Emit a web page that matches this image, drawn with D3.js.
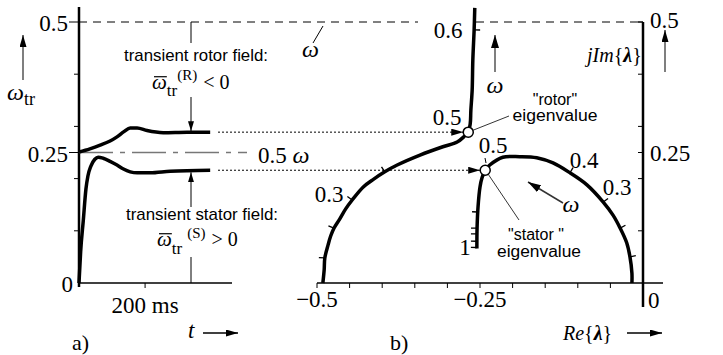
<!DOCTYPE html>
<html><head><meta charset="utf-8">
<script src="https://cdn.jsdelivr.net/npm/d3@7"></script>
<style>
html,body{margin:0;padding:0;background:#fff}
svg{display:block}
text{font-family:"Liberation Serif","Times New Roman",serif;fill:#000}
.sans{font-family:"Liberation Sans Narrow","Liberation Sans",Arial,sans-serif}
</style></head><body>
<svg id="chart" width="723" height="355"></svg>
<script>
// ---------- data ----------
const omega = 0.5;                       // stator frequency (p.u.)
const timeTicks = [200];                 // ms
const omegaTicks = [0.1, 0.2, 0.25, 0.3, 0.4, 0.5];
const omegaLabels = [0, 0.25, 0.5];
const reTicks = [-0.5, -0.45, -0.4, -0.35, -0.3, -0.25, -0.2, -0.15, -0.1, -0.05];
const reLabels = [-0.5, -0.25];

// transient frequencies [t (ms), omega_tr]
const rotorTransient = [[0,0.251],[33,0.257],[64,0.264],[94,0.272],[115,0.280],[136,0.290],[155,0.297],[176,0.297],[206,0.292],[255,0.288],[327,0.289],[397,0.289]];
const statorTransient = [[0,0],[5,0.06],[13,0.12],[21,0.180],[27,0.205],[36,0.224],[48,0.237],[58,0.241],[73,0.239],[94,0.233],[115,0.226],[133,0.219],[155,0.213],[176,0.211],[215,0.211],[276,0.214],[397,0.216]];

// eigenvalue loci [Re, Im] as omega rises
const rotorLocus = [[-0.491,0],[-0.489,0.025],[-0.488,0.048],[-0.483,0.073],[-0.479,0.090],[-0.474,0.105],[-0.465,0.123],[-0.456,0.142],[-0.446,0.159],[-0.429,0.184],[-0.413,0.199],[-0.396,0.213],[-0.377,0.226],[-0.342,0.245],[-0.307,0.261],[-0.285,0.270],[-0.275,0.280],[-0.268,0.289],[-0.265,0.305],[-0.264,0.331],[-0.262,0.370],[-0.261,0.427],[-0.259,0.485],[-0.258,0.527]];
const statorLocus = [[-0.017,0],[-0.017,0.019],[-0.020,0.050],[-0.025,0.077],[-0.035,0.105],[-0.046,0.130],[-0.061,0.155],[-0.086,0.188],[-0.112,0.211],[-0.138,0.230],[-0.163,0.240],[-0.189,0.242],[-0.215,0.241],[-0.235,0.226],[-0.242,0.216],[-0.247,0.201],[-0.250,0.184],[-0.253,0.146],[-0.2545,0.105],[-0.2548,0.066]];
// omega marks along the loci [omega, Re, Im]
const rotorMarks = [[0.1,-0.488,0.048],[0.2,-0.474,0.105],[0.3,-0.446,0.159],[0.4,-0.396,0.213],[0.6,-0.259,0.485]];
const statorMarks = [[0.1,-0.020,0.050],[0.2,-0.035,0.105],[0.3,-0.061,0.155],[0.4,-0.112,0.211],[0.6,-0.253,0.136],[0.7,-0.2546,0.105],[0.8,-0.2547,0.094],[0.9,-0.2547,0.080],[1.0,-0.2548,0.068]];
// operating points at omega = 0.5
const rotorEig = [-0.268, 0.289];
const statorEig = [-0.242, 0.216];

// ---------- scales ----------
const svg = d3.select("#chart");
const tx = d3.scaleLinear().domain([0, 460]).range([79, 231]);
const wy = d3.scaleLinear().domain([0, 0.5]).range([283, 22]);
const rx = d3.scaleLinear().domain([-0.5, 0]).range([317, 643]);
const iy = wy; // imaginary axis shares the frequency scale

// ---------- markers ----------
const defs = svg.append("defs");
function marker(id, L, W, color) {
  defs.append("marker").attr("id", id).attr("viewBox", `0 0 ${L} ${W}`)
    .attr("refX", L).attr("refY", W / 2).attr("markerWidth", L).attr("markerHeight", W)
    .attr("markerUnits", "userSpaceOnUse").attr("orient", "auto")
    .append("path").attr("d", `M0,0L${L},${W/2}L0,${W}Z`).attr("fill", color || "#000");
}
marker("ah", 12, 7);
marker("ahs", 10, 6);
marker("ahb", 13, 8);

function line(x1, y1, x2, y2, opts = {}) {
  const l = svg.append("line").attr("x1", x1).attr("y1", y1).attr("x2", x2).attr("y2", y2)
    .attr("stroke", opts.color || "#000").attr("stroke-width", opts.w || 1);
  if (opts.dash) l.attr("stroke-dasharray", opts.dash);
  if (opts.end) l.attr("marker-end", `url(#${opts.end})`);
  return l;
}
function label(x, y, s, opts = {}) {
  const t = svg.append("text").attr("x", x).attr("y", y).text(s)
    .attr("font-size", opts.size || 23).attr("text-anchor", opts.anchor || "start");
  if (opts.italic) t.attr("font-style", "italic");
  if (opts.cls) t.attr("class", opts.cls);
  if (opts.len) t.attr("textLength", opts.len).attr("lengthAdjust", "spacingAndGlyphs");
  return t;
}
const fmt = v => (v < 0 ? "\u2212" : "") + d3.format("~g")(Math.abs(v));

// ---------- panel a: axes ----------
const x0 = tx(0);
line(x0, 7, x0, 287, { w: 2.5 });
line(x0, wy(0), 232, wy(0), { w: 1.5 });
omegaTicks.forEach(v => {
  const big = omegaLabels.includes(v);
  line(x0 - (big ? 10 : 5), wy(v), x0, wy(v), { w: 1 });
});
timeTicks.forEach(v => line(tx(v), wy(0), tx(v), wy(0) + 5, { w: 1 }));
omegaLabels.forEach(v => label(v === 0 ? 73 : 68, wy(v) + 9, fmt(v), { anchor: "end" }));
timeTicks.forEach(v => label(tx(v), 313, v + " ms", { anchor: "middle" }));

// reference lines: omega and 0.5 omega
line(x0, wy(omega), 418, wy(omega), { dash: "8,6" });
line(476, wy(omega), rx(0), wy(omega), { dash: "8,6" });
line(x0, wy(0.5 * omega), 247, wy(0.5 * omega), { color: "#777", w: 1.5, dash: "34,7,5,7" });
const half = label(258, 163, "0.5 ");
half.append("tspan").attr("font-style", "italic").attr("font-size", 24).text("\u03c9");
label(302, 57, "\u03c9", { italic: true, size: 24 });
line(323, 26, 313, 43);

// transient curves
const tLine = d3.line().x(d => tx(d[0])).y(d => wy(d[1])).curve(d3.curveMonotoneX);
svg.append("path").attr("d", tLine(rotorTransient)).attr("fill", "none").attr("stroke", "#000").attr("stroke-width", 3.5);
svg.append("path").attr("d", tLine(statorTransient)).attr("fill", "none").attr("stroke", "#000").attr("stroke-width", 3.5);

// annotations panel a
const rEnd = rotorTransient[rotorTransient.length - 1];
const sEnd = statorTransient[statorTransient.length - 1];
const ax = 191;
line(ax, wy(omega), ax, 43);
line(ax, 97, ax, wy(rEnd[1]) - 1, { end: "ahs" });
line(ax, wy(0), ax, 257);
line(ax, 207, ax, wy(sEnd[1]) + 2, { end: "ahs" });
label(124, 61, "transient rotor field:", { cls: "sans", size: 17, len: 144 });
label(126, 220, "transient stator field:", { cls: "sans", size: 17, len: 152 });

function omegaBar(textSel) {
  const r = textSel.node().getExtentOfChar(0);
  line(r.x + 2, r.y + r.height * 0.28, r.x + r.width, r.y + r.height * 0.28, { w: 1.2 });
}
const mr = label(152, 89, "", { size: 21 });
mr.append("tspan").attr("font-style", "italic").text("\u03c9");
mr.append("tspan").attr("font-size", 17).attr("dy", 7).text("tr");
mr.append("tspan").attr("font-size", 15).attr("dy", -16).text("(R)");
mr.append("tspan").attr("font-size", 20).attr("dy", 9).attr("dx", 6).text("< 0");
omegaBar(mr);
const ms = label(157, 246, "", { size: 21 });
ms.append("tspan").attr("font-style", "italic").text("\u03c9");
ms.append("tspan").attr("font-size", 17).attr("dy", 8).text("tr");
ms.append("tspan").attr("font-size", 15).attr("dy", -16).attr("dx", 5).text("(S)");
ms.append("tspan").attr("font-size", 20).attr("dy", 8).attr("dx", 6).text("> 0");
omegaBar(ms);

// axis captions panel a
line(23, 80, 23, 35, { color: "#555", w: 1.5, end: "ah" });
const wl = label(7, 100, "", { size: 24 });
wl.append("tspan").attr("font-style", "italic").text("\u03c9");
wl.append("tspan").attr("font-size", 18).attr("dy", 5).text("tr");
label(188, 338, "t", { italic: true, size: 23 });
line(203, 333, 238, 333, { w: 1.5, end: "ah" });
label(72, 350, "a)", { size: 22 });

// ---------- panel b: axes ----------
const y0 = rx(0);
line(rx(-0.5), iy(0), 663, iy(0), { w: 1.5 });
reTicks.forEach(v => line(rx(v), iy(0), rx(v), iy(0) + 5));
reLabels.forEach(v => label(rx(v), 307, fmt(v), { anchor: "middle" }));
line(y0, iy(0.5), y0, 307, { w: 2.5 });
line(y0 - 5, iy(0.5), y0, iy(0.5), { w: 1.5 });
omegaTicks.filter(v => v < 0.5).forEach(v => line(y0 - 5, iy(v), y0, iy(v)));
label(650, 28, "0.5");
label(650, 161, "0.25");
label(648, 308, "0");

// loci
const lLine = d3.line().x(d => rx(d[0])).y(d => iy(d[1])).curve(d3.curveCatmullRom.alpha(0.5));
svg.append("path").attr("d", lLine(rotorLocus)).attr("fill", "none").attr("stroke", "#000").attr("stroke-width", 3.5);
svg.append("path").attr("d", lLine(statorLocus)).attr("fill", "none").attr("stroke", "#000").attr("stroke-width", 3.5);

// omega marks, drawn normal to the locus
function marks(locus, pts, sideOf) {
  const P = locus.map(d => [rx(d[0]), iy(d[1])]);
  pts.forEach(m => {
    const px = rx(m[1]), py = iy(m[2]);
    let best = 0, bd = Infinity;
    for (let i = 0; i < P.length - 1; i++) {
      const mx = (P[i][0] + P[i + 1][0]) / 2, my = (P[i][1] + P[i + 1][1]) / 2;
      const d = Math.hypot(mx - px, my - py);
      if (d < bd) { bd = d; best = i; }
    }
    let dx = P[best + 1][0] - P[best][0], dy = P[best + 1][1] - P[best][1];
    const n = Math.hypot(dx, dy); dx /= n; dy /= n;
    const s = sideOf(m[0]);
    const nx = s * -dy, ny = s * dx;
    line(px, py, px + nx * 6, py + ny * 6, { w: 1.3 });
  });
}
marks(rotorLocus, rotorMarks, w => (w > 0.5 ? 1 : -1));
marks(statorLocus, statorMarks, () => 1);

// dotted links from steady transient frequency to the eigenvalues
line(218, wy(rEnd[1]), rx(rotorEig[0]) - 5, iy(rotorEig[1]), { dash: "2,2", end: "ah" });
line(218, wy(sEnd[1]), rx(statorEig[0]) - 5, iy(statorEig[1]), { dash: "2,2", end: "ah" });
[rotorEig, statorEig].forEach(e =>
  svg.append("circle").attr("cx", rx(e[0])).attr("cy", iy(e[1])).attr("r", 5)
    .attr("fill", "#fff").attr("stroke", "#000").attr("stroke-width", 1.5));

// locus labels
label(447, 125, "0.5", { anchor: "middle" });
label(448, 38, "0.6", { anchor: "middle" });
label(329, 202, "0.3", { anchor: "middle" });
label(493, 153, "0.5", { anchor: "middle" });
line(485, 158, 486, 163);
label(584, 168, "0.4", { anchor: "middle" });
label(617, 195, "0.3", { anchor: "middle" });
label(465, 255, "1", { anchor: "middle" });

// omega direction hints
line(495, 72, 495, 35, { color: "#555", w: 1.5, end: "ahb" });
label(495, 93, "\u03c9", { italic: true, size: 24, anchor: "middle" });
line(563, 203, 528, 182, { color: "#333", w: 1.5, end: "ahb" });
label(571, 212, "\u03c9", { italic: true, size: 24, anchor: "middle" });

// eigenvalue names
label(555, 105, "\"rotor\"", { cls: "sans", size: 16, anchor: "middle" });
label(555, 121, "eigenvalue", { cls: "sans", size: 16, anchor: "middle", len: 85 });
line(rx(rotorEig[0]) + 5, iy(rotorEig[1]) - 2, 509, 116, { w: 0.8 });
label(536, 240, "\"stator \"", { cls: "sans", size: 16, anchor: "middle" });
label(539, 257, "eigenvalue", { cls: "sans", size: 16, anchor: "middle", len: 84 });
line(rx(statorEig[0]) + 3, iy(statorEig[1]) + 4, 519, 220, { w: 0.8 });

// axis captions panel b
const im = label(587, 62, "", { size: 20 });
im.append("tspan").attr("font-style", "italic").text("jIm");
im.append("tspan").text("{");
im.append("tspan").attr("font-weight", "bold").attr("font-style", "italic").text("\u03bb");
im.append("tspan").text("}");
line(665, 72, 665, 30, { color: "#555", w: 1.5, end: "ah" });
const re = label(563, 340, "", { size: 20 });
re.append("tspan").attr("font-style", "italic").text("Re");
re.append("tspan").text("{");
re.append("tspan").attr("font-weight", "bold").attr("font-style", "italic").text("\u03bb");
re.append("tspan").text("}");
line(627, 333, 662, 333, { w: 1.5, end: "ah" });
label(390, 350, "b)", { size: 22 });
</script>
</body></html>
